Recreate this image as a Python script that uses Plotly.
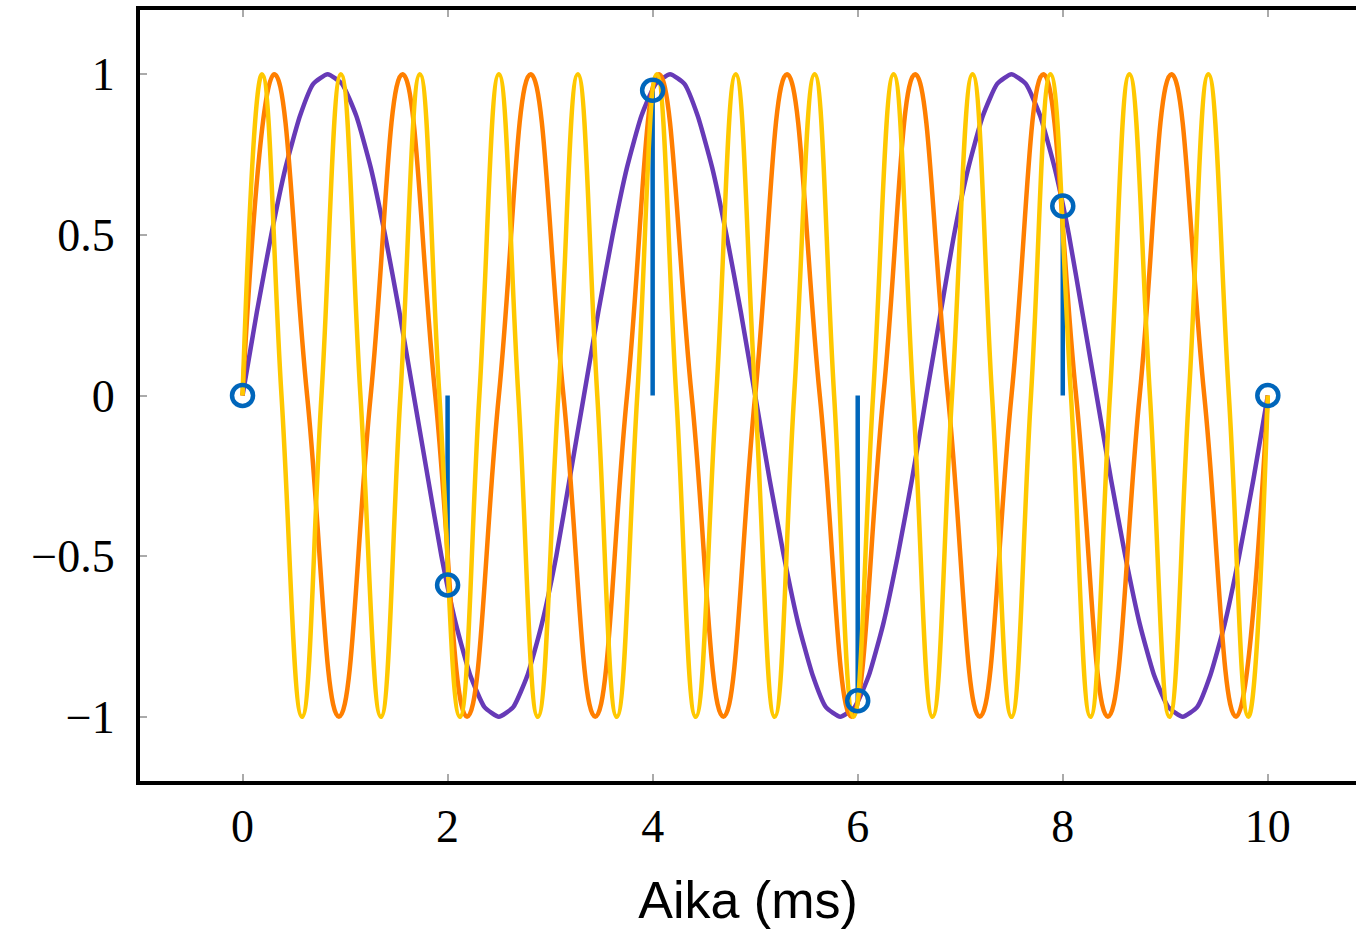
import plotly.graph_objs as go

# sample instants and sampled values (stems)
sample_t = [0, 2, 4, 6, 8, 10]
sample_v = [0, -0.59, 0.95, -0.95, 0.59, 0]

# purple curve: read every 1/24 of a period
purple_t = [0, 0.14, 0.28, 0.42, 0.56, 0.69, 0.83, 0.97, 1.11, 1.25, 1.39, 1.53,
            1.67, 1.81, 1.94, 2.08, 2.22, 2.36, 2.5, 2.64, 2.78, 2.92, 3.06, 3.19,
            3.33, 3.47, 3.61, 3.75, 3.89, 4.03, 4.17, 4.31, 4.44, 4.58, 4.72, 4.86,
            5, 5.14, 5.28, 5.42, 5.56, 5.69, 5.83, 5.97, 6.11, 6.25, 6.39, 6.53,
            6.67, 6.81, 6.94, 7.08, 7.22, 7.36, 7.5, 7.64, 7.78, 7.92, 8.06, 8.19,
            8.33, 8.47, 8.61, 8.75, 8.89, 9.03, 9.17, 9.31, 9.44, 9.58, 9.72, 9.86, 10]
purple_v = [0, 0.26, 0.5, 0.71, 0.87, 0.97, 1, 0.97, 0.87, 0.71, 0.5, 0.26,
            0, -0.26, -0.5, -0.71, -0.87, -0.97, -1, -0.97, -0.87, -0.71, -0.5, -0.26,
            0, 0.26, 0.5, 0.71, 0.87, 0.97, 1, 0.97, 0.87, 0.71, 0.5, 0.26,
            0, -0.26, -0.5, -0.71, -0.87, -0.97, -1, -0.97, -0.87, -0.71, -0.5, -0.26,
            0, 0.26, 0.5, 0.71, 0.87, 0.97, 1, 0.97, 0.87, 0.71, 0.5, 0.26,
            0, -0.26, -0.5, -0.71, -0.87, -0.97, -1, -0.97, -0.87, -0.71, -0.5, -0.26, 0]

# orange curve: zero crossings and peaks
orange_t = [0, 0.31, 0.63, 0.94, 1.25, 1.56, 1.88, 2.19, 2.5, 2.81, 3.13, 3.44,
            3.75, 4.06, 4.38, 4.69, 5, 5.31, 5.63, 5.94, 6.25, 6.56, 6.88, 7.19,
            7.5, 7.81, 8.13, 8.44, 8.75, 9.06, 9.38, 9.69, 10]
orange_v = [0, 1, 0, -1, 0, 1, 0, -1, 0, 1, 0, -1,
            0, 1, 0, -1, 0, 1, 0, -1, 0, 1, 0, -1,
            0, 1, 0, -1, 0, 1, 0, -1, 0]

# yellow curve: zero crossings and peaks
yellow_t = [0, 0.19, 0.38, 0.58, 0.77, 0.96, 1.15, 1.35, 1.54, 1.73, 1.92, 2.12,
            2.31, 2.5, 2.69, 2.88, 3.08, 3.27, 3.46, 3.65, 3.85, 4.04, 4.23, 4.42,
            4.62, 4.81, 5, 5.19, 5.38, 5.58, 5.77, 5.96, 6.15, 6.35, 6.54, 6.73,
            6.92, 7.12, 7.31, 7.5, 7.69, 7.88, 8.08, 8.27, 8.46, 8.65, 8.85, 9.04,
            9.23, 9.42, 9.62, 9.81, 10]
yellow_v = [0, 1, 0, -1, 0, 1, 0, -1, 0, 1, 0, -1,
            0, 1, 0, -1, 0, 1, 0, -1, 0, 1, 0, -1,
            0, 1, 0, -1, 0, 1, 0, -1, 0, 1, 0, -1,
            0, 1, 0, -1, 0, 1, 0, -1, 0, 1, 0, -1,
            0, 1, 0, -1, 0]

x_ticks = [0, 2, 4, 6, 8, 10]
y_ticks = [-1, -0.5, 0, 0.5, 1]
y_labels = ['\u22121', '\u22120.5', '0', '0.5', '1']

blue = '#0066BB'
lw = 4.5

fig = go.Figure()

# stems
for t, v in zip(sample_t, sample_v):
    fig.add_trace(go.Scatter(x=[t, t], y=[0, v], mode='lines',
                             line=dict(color=blue, width=lw), hoverinfo='skip'))

fig.add_trace(go.Scatter(x=purple_t, y=purple_v, mode='lines',
                         line=dict(color='#673AB7', width=lw, shape='spline', smoothing=0.5)))
fig.add_trace(go.Scatter(x=orange_t, y=orange_v, mode='lines',
                         line=dict(color='#FF7F00', width=lw, shape='spline', smoothing=1.3)))
fig.add_trace(go.Scatter(x=yellow_t, y=yellow_v, mode='lines',
                         line=dict(color='#FFC800', width=lw, shape='spline', smoothing=1.3)))

fig.add_trace(go.Scatter(x=sample_t, y=sample_v, mode='markers',
                         marker=dict(symbol='circle-open', size=21, color=blue,
                                     line=dict(color=blue, width=4.5)),
                         cliponaxis=False))

fig.update_layout(
    width=1356, height=929,
    showlegend=False,
    plot_bgcolor='white', paper_bgcolor='white',
    margin=dict(l=140, r=0, t=10, b=148),
    xaxis=dict(range=[-1, 10.86], tickvals=x_ticks, ticks='inside', ticklen=7,
               tickcolor='#aaaaaa', tickwidth=1.5, showgrid=False, zeroline=False,
               showline=True, linecolor='black', linewidth=4, mirror='ticks',
               ticklabelstandoff=2,
               tickfont=dict(family='Liberation Serif', size=46, color='black'),
               title=dict(text='Aika (ms)', standoff=34,
                          font=dict(family='Liberation Sans', size=52, color='black'))),
    yaxis=dict(range=[-1.2, 1.2], tickvals=y_ticks, ticktext=y_labels, ticks='inside',
               ticklen=7, tickcolor='#aaaaaa', tickwidth=1.5, showgrid=False,
               zeroline=False, showline=True, linecolor='black', linewidth=4,
               ticklabelstandoff=12,
               tickfont=dict(family='Liberation Serif', size=46, color='black')),
)

fig.write_html("out.html", config={'displayModeBar': False},
               post_script="document.body.style.margin='0';")
